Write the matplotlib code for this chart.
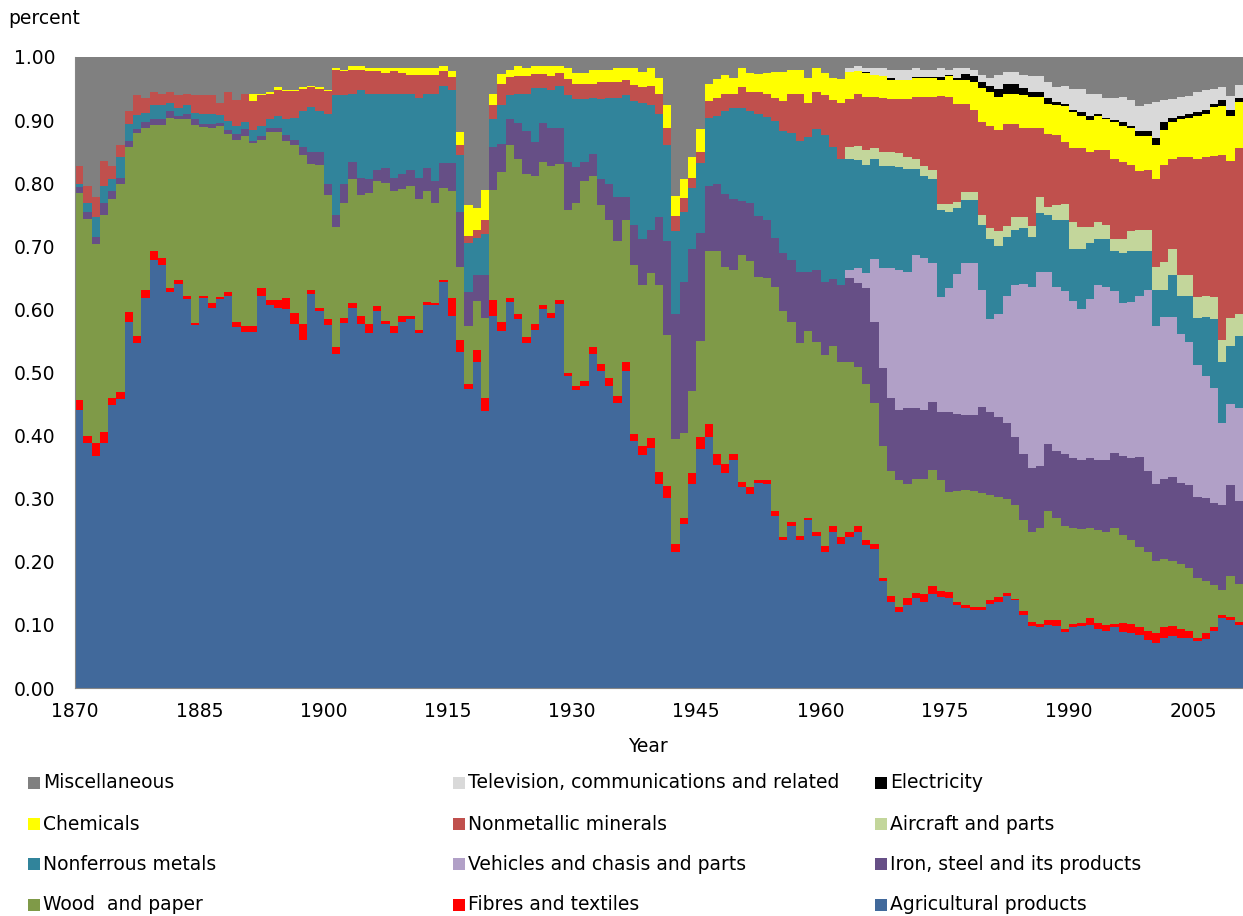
import numpy as np
import matplotlib
matplotlib.use('Agg')
import matplotlib.pyplot as plt
from matplotlib.patches import Rectangle
from matplotlib.ticker import FormatStrFormatter

# Upper edge of every band (cumulative share), 1870-2010
years = np.arange(1870, 2011)

agricultural_top = [
    .441, .388, .368, .388, .448, .458, .580, .546, .618, .678,
    .670, .628, .641, .616, .575, .618, .602, .616, .622, .572,
    .564, .564, .622, .607, .603, .600, .577, .552, .625, .597,
    .575, .530, .578, .602, .577, .562, .597, .577, .562, .580,
    .584, .562, .607, .607, .644, .590, .533, .474, .517, .439,
    .590, .565, .612, .585, .546, .567, .600, .587, .609, .494,
    .473, .479, .529, .502, .479, .451, .502, .391, .369, .380,
    .324, .301, .216, .260, .324, .379, .397, .353, .340, .361,
    .318, .308, .325, .324, .273, .234, .257, .234, .267, .241,
    .216, .247, .229, .239, .247, .226, .220, .169, .137, .120,
    .131, .142, .137, .149, .144, .142, .131, .126, .123, .123,
    .133, .137, .146, .139, .115, .098, .097, .100, .098, .089,
    .097, .098, .100, .093, .090, .097, .089, .087, .084, .076,
    .071, .080, .082, .080, .080, .074, .077, .090, .111, .107,
    .100]

fibres_top = [
    .456, .399, .389, .405, .459, .469, .596, .558, .631, .692,
    .682, .634, .647, .622, .579, .622, .610, .620, .627, .580,
    .574, .574, .634, .615, .615, .618, .595, .577, .631, .602,
    .584, .540, .587, .610, .589, .577, .605, .582, .573, .589,
    .589, .567, .612, .610, .647, .618, .551, .482, .536, .459,
    .615, .580, .618, .593, .556, .577, .607, .595, .615, .500,
    .479, .486, .540, .514, .491, .463, .517, .402, .383, .396,
    .342, .320, .229, .270, .340, .397, .418, .371, .355, .371,
    .327, .318, .329, .329, .280, .239, .263, .241, .269, .247,
    .225, .257, .239, .248, .256, .234, .229, .175, .146, .128,
    .142, .151, .149, .161, .154, .152, .137, .131, .128, .129,
    .139, .144, .150, .141, .122, .105, .102, .108, .108, .093,
    .102, .103, .111, .103, .100, .102, .103, .102, .097, .090,
    .087, .097, .098, .093, .090, .080, .087, .097, .116, .113,
    .105]

wood_top = [
    .784, .744, .703, .750, .775, .799, .857, .880, .888, .892,
    .892, .904, .902, .901, .892, .889, .888, .891, .878, .869,
    .875, .863, .869, .881, .881, .867, .860, .844, .831, .829,
    .781, .731, .769, .806, .781, .784, .803, .801, .788, .791,
    .796, .775, .788, .769, .793, .788, .667, .573, .613, .587,
    .790, .818, .861, .839, .815, .812, .834, .827, .831, .758,
    .769, .803, .812, .765, .741, .708, .741, .671, .639, .658,
    .638, .559, .394, .404, .471, .550, .692, .692, .667, .663,
    .686, .676, .652, .649, .636, .597, .580, .546, .565, .549,
    .528, .542, .517, .517, .508, .482, .452, .384, .344, .329,
    .324, .332, .332, .345, .330, .311, .312, .314, .312, .309,
    .306, .303, .299, .290, .267, .248, .254, .280, .270, .257,
    .254, .252, .254, .250, .247, .254, .242, .234, .224, .216,
    .201, .205, .201, .196, .190, .175, .170, .163, .156, .178,
    .165]

iron_top = [
    .794, .755, .714, .769, .788, .809, .867, .886, .897, .902,
    .902, .915, .907, .910, .901, .894, .894, .896, .885, .878,
    .886, .867, .875, .888, .888, .876, .869, .857, .850, .850,
    .799, .750, .799, .834, .809, .806, .821, .824, .809, .815,
    .821, .809, .824, .803, .832, .832, .755, .628, .654, .654,
    .857, .862, .901, .895, .883, .866, .895, .888, .888, .834,
    .825, .834, .846, .806, .798, .778, .778, .733, .711, .726,
    .747, .708, .593, .644, .695, .721, .796, .799, .783, .775,
    .771, .768, .748, .741, .713, .690, .678, .660, .660, .662,
    .644, .648, .638, .649, .642, .634, .580, .507, .459, .441,
    .443, .443, .441, .453, .437, .437, .435, .433, .433, .446,
    .437, .430, .420, .397, .371, .348, .352, .386, .375, .371,
    .365, .361, .365, .361, .361, .373, .368, .365, .366, .344,
    .324, .332, .334, .325, .322, .303, .301, .293, .290, .322,
    .296]

# from 1963 on
vehicles_top = [
    .662, .665, .658, .680, .665, .665, .662,
    .659, .686, .682, .673, .620, .634, .656, .673, .673, .631,
    .584, .593, .621, .638, .641, .636, .660, .659, .636, .629,
    .613, .600, .616, .638, .636, .629, .610, .612, .622, .631,
    .574, .588, .588, .561, .549, .512, .495, .475, .420, .450,
    .443]

nonferrous_top = [
    .799, .768, .746, .796, .806, .841, .894, .908, .912, .924,
    .924, .927, .919, .924, .912, .910, .910, .908, .899, .891,
    .897, .884, .891, .901, .907, .902, .904, .914, .920, .914,
    .910, .940, .940, .941, .948, .941, .941, .941, .941, .941,
    .941, .935, .941, .941, .954, .948, .845, .705, .713, .720,
    .901, .924, .940, .941, .941, .951, .951, .948, .954, .939,
    .933, .933, .935, .933, .935, .935, .939, .930, .927, .924,
    .910, .860, .724, .755, .793, .832, .904, .907, .914, .919,
    .919, .914, .910, .905, .899, .883, .880, .867, .873, .886,
    .876, .857, .839, .839, .837, .829, .839, .827, .827, .825,
    .822, .822, .812, .806, .757, .754, .760, .773, .773, .734,
    .711, .701, .714, .726, .729, .714, .752, .750, .741, .741,
    .695, .695, .705, .712, .711, .693, .690, .693, .693, .693,
    .631, .631, .654, .622, .621, .587, .588, .584, .517, .542,
    .558]

# from 1963 on
aircraft_top = [
    .858, .859, .852, .855, .850, .850, .848,
    .841, .839, .827, .821, .767, .767, .770, .786, .786, .750,
    .729, .724, .732, .746, .746, .732, .778, .763, .765, .767,
    .739, .731, .731, .739, .734, .712, .711, .724, .726, .726,
    .667, .675, .695, .654, .654, .620, .621, .620, .551, .587,
    .593]

nonmetallic_top = [
    .827, .796, .778, .835, .827, .860, .914, .939, .935, .945,
    .941, .945, .939, .941, .939, .939, .939, .927, .945, .932,
    .941, .930, .939, .941, .948, .946, .946, .950, .952, .950,
    .946, .980, .978, .980, .980, .978, .978, .975, .978, .975,
    .972, .972, .972, .972, .978, .969, .860, .716, .726, .742,
    .924, .958, .968, .970, .970, .973, .973, .970, .974, .965,
    .958, .958, .958, .960, .960, .961, .963, .956, .953, .954,
    .941, .887, .748, .776, .809, .850, .930, .935, .942, .942,
    .952, .945, .945, .941, .935, .930, .942, .942, .927, .945,
    .939, .932, .927, .934, .941, .936, .936, .935, .933, .933,
    .933, .937, .937, .936, .938, .936, .926, .926, .916, .897,
    .891, .884, .894, .894, .888, .888, .888, .878, .876, .866,
    .856, .856, .850, .852, .852, .839, .834, .829, .819, .821,
    .806, .829, .839, .841, .841, .839, .841, .843, .845, .835,
    .855]

chemicals_top = [
    .827, .796, .778, .835, .827, .860, .914, .939, .935, .945,
    .941, .945, .939, .941, .939, .939, .939, .927, .945, .932,
    .941, .941, .941, .944, .952, .948, .948, .952, .954, .952,
    .948, .982, .980, .985, .985, .982, .982, .982, .982, .982,
    .982, .982, .982, .982, .985, .978, .881, .765, .760, .790,
    .942, .973, .980, .986, .982, .986, .986, .986, .986, .982,
    .975, .975, .980, .980, .980, .982, .982, .982, .976, .982,
    .967, .924, .780, .806, .841, .886, .958, .965, .971, .967,
    .982, .975, .973, .974, .976, .976, .979, .979, .967, .982,
    .975, .967, .965, .976, .978, .974, .971, .970, .964, .964,
    .964, .966, .966, .966, .964, .970, .964, .964, .960, .951,
    .945, .936, .942, .942, .939, .936, .936, .926, .924, .922,
    .913, .907, .900, .906, .901, .897, .891, .888, .875, .875,
    .860, .884, .897, .901, .904, .907, .910, .920, .923, .906,
    .929]

# from 1963 on
electricity_top = [
    .976, .978, .976, .971, .970, .967, .964,
    .964, .969, .969, .969, .968, .972, .967, .973, .970, .961,
    .954, .950, .957, .957, .951, .945, .945, .935, .929, .926,
    .916, .913, .907, .910, .904, .900, .897, .891, .882, .882,
    .872, .897, .904, .906, .909, .913, .916, .925, .932, .916,
    .935]

# from 1963 on
television_top = [
    .982, .986, .982, .982, .982, .979, .979,
    .979, .982, .979, .979, .982, .979, .982, .982, .979, .972,
    .966, .972, .976, .976, .972, .970, .970, .960, .952, .954,
    .950, .950, .942, .941, .935, .935, .937, .932, .923, .925,
    .929, .932, .934, .937, .938, .945, .948, .950, .952, .938,
    .956]

labels = ['Agricultural products', 'Fibres and textiles', 'Wood  and paper',
          'Iron, steel and its products', 'Vehicles and chasis and parts',
          'Nonferrous metals', 'Aircraft and parts', 'Nonmetallic minerals',
          'Chemicals', 'Electricity', 'Television, communications and related',
          'Miscellaneous']
colors = ['#41699B', '#FF0000', '#7F9A48', '#664F86', '#B1A0C7', '#31849B',
          '#C3D69B', '#C0504D', '#FFFF00', '#000000', '#D9D9D9', '#808080']

FONT_SIZE = 13.5

# series starting in 1963 sit on the band below them before that
n_early = int(np.sum(years < 1963))


def late(values, below):
    return np.concatenate([np.asarray(below)[:n_early], values])


tops = [np.asarray(agricultural_top), np.asarray(fibres_top),
        np.asarray(wood_top), np.asarray(iron_top)]
tops.append(late(vehicles_top, tops[-1]))
tops.append(np.asarray(nonferrous_top))
tops.append(late(aircraft_top, tops[-1]))
tops.append(np.asarray(nonmetallic_top))
tops.append(np.asarray(chemicals_top))
tops.append(late(electricity_top, tops[-1]))
tops.append(late(television_top, tops[-1]))
tops.append(np.ones(len(years)))

edges = np.append(years, years[-1] + 1)

fig = plt.figure(figsize=(12.43, 9.16), dpi=100)
ax = fig.add_axes([75 / 1243, 1 - 688 / 916, 1168 / 1243, 631 / 916])

# paint from the top band down so neighbouring bands leave no seams
for top, color in reversed(list(zip(tops, colors))):
    ax.stairs(top, edges, baseline=0, fill=True, color=color, linewidth=0)

ax.set_xlim(1870, 2011)
ax.set_ylim(0, 1)
ax.set_xticks(np.arange(1870, 2011, 15))
ax.set_yticks(np.linspace(0, 1, 11))
ax.yaxis.set_major_formatter(FormatStrFormatter('%.2f'))
ax.tick_params(axis='both', length=0, labelsize=FONT_SIZE)
ax.tick_params(axis='x', pad=10)
ax.tick_params(axis='y', pad=14)
for side in ['top', 'right']:
    ax.spines[side].set_visible(False)
for side in ['left', 'bottom']:
    ax.spines[side].set_color('#868686')

fig.text(8 / 1243, 1 - 18 / 916, 'percent', fontsize=FONT_SIZE,
         va='center', ha='left')
fig.text(648 / 1243, 1 - 746 / 916, 'Year', fontsize=FONT_SIZE,
         va='center', ha='center')

# legend: 3 columns, 4 rows, same order as the original
legend_order = [11, 10, 9, 8, 7, 6, 5, 4, 3, 2, 1, 0]
col_x = [28, 453, 875]
row_y = [783, 824, 864, 905]
box = 12
for k, idx in enumerate(legend_order):
    x0 = col_x[k % 3]
    y0 = row_y[k // 3]
    fig.patches.append(Rectangle(
        (x0 / 1243, 1 - (y0 + box / 2) / 916), box / 1243, box / 916,
        transform=fig.transFigure, facecolor=colors[idx], edgecolor='none'))
    fig.text((x0 + box + 3) / 1243, 1 - y0 / 916, labels[idx],
             fontsize=FONT_SIZE, va='center', ha='left')

plt.savefig('out.png', dpi=100)
